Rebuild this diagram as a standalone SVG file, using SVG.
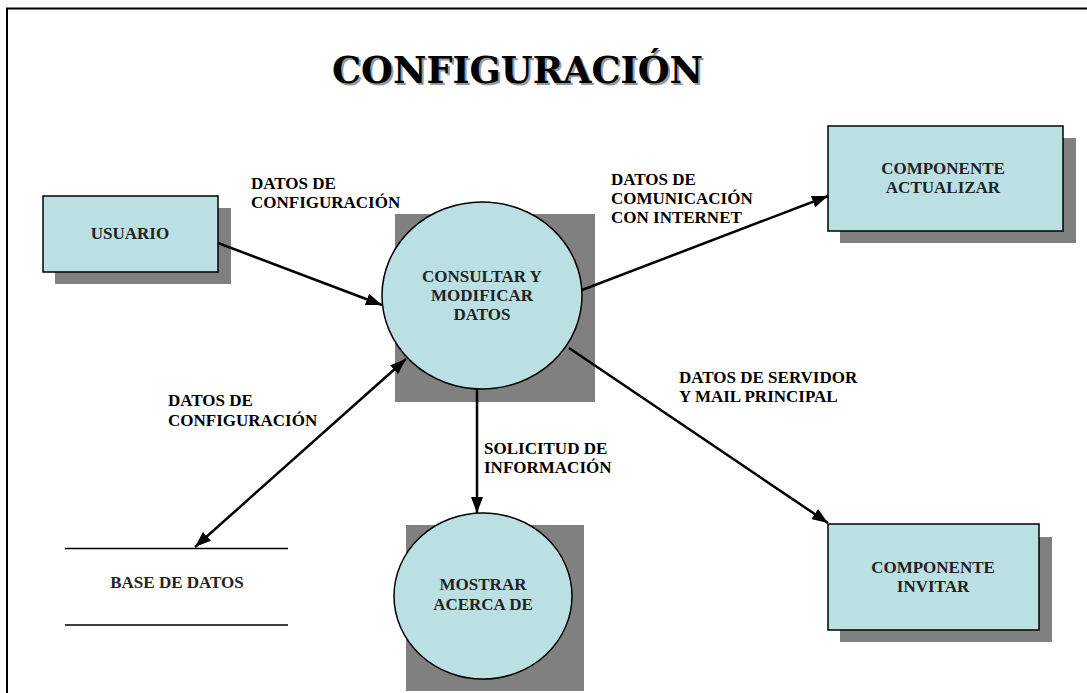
<svg xmlns="http://www.w3.org/2000/svg" width="1087" height="693" viewBox="0 0 1087 693">
<style>
.shadow{fill:#808080;stroke:none}
.node{fill:#BBE0E3;stroke:#000;stroke-width:1.5}
.ntext{font-family:"Liberation Serif",serif;font-weight:bold;font-size:17px;fill:#222;text-anchor:middle}
.lbl{font-family:"Liberation Serif",serif;font-weight:bold;font-size:17px;fill:#000}
.conn{stroke:#000;stroke-width:2.5;fill:none}
.title{font-family:"DejaVu Serif",serif;font-weight:bold;font-size:38px}
</style>
<defs>
<marker id="ah" markerUnits="userSpaceOnUse" markerWidth="16" markerHeight="12" refX="16" refY="6" orient="auto-start-reverse">
<path d="M0,0 L16,6 L0,12 z" fill="#000"/>
</marker>
</defs>
<rect width="1087" height="693" fill="#fff"/>
<rect x="7" y="8.5" width="1100" height="700" fill="none" stroke="#000" stroke-width="2"/>
<g id="title">
<text class="title" x="334" y="85" fill="#999" textLength="371" lengthAdjust="spacingAndGlyphs">CONFIGURACIÓN</text>
<text class="title" x="332" y="83" fill="#000" textLength="371" lengthAdjust="spacingAndGlyphs">CONFIGURACIÓN</text>
</g>
<g id="usuario">
<rect class="shadow" x="55" y="208" width="176" height="76"/>
<rect class="node" x="43" y="196" width="175" height="76"/>
<text class="ntext" x="130" y="239">USUARIO</text>
</g>
<g id="consultar">
<rect class="shadow" x="395" y="214" width="200" height="188"/>
<ellipse class="node" cx="482" cy="295.5" rx="100" ry="93.5"/>
<text class="ntext" x="482" y="282">CONSULTAR Y</text>
<text class="ntext" x="482" y="301">MODIFICAR</text>
<text class="ntext" x="482" y="320">DATOS</text>
</g>
<g id="actualizar">
<rect class="shadow" x="840" y="138" width="236" height="105"/>
<rect class="node" x="828" y="126" width="235" height="105"/>
<text class="ntext" x="943" y="174">COMPONENTE</text>
<text class="ntext" x="943" y="193">ACTUALIZAR</text>
</g>
<g id="invitar">
<rect class="shadow" x="840" y="537" width="212" height="105"/>
<rect class="node" x="828" y="524" width="211" height="106"/>
<text class="ntext" x="933" y="573">COMPONENTE</text>
<text class="ntext" x="933" y="592">INVITAR</text>
</g>
<g id="mostrar">
<rect class="shadow" x="406" y="525" width="178" height="166"/>
<ellipse class="node" cx="483" cy="596" rx="89" ry="83"/>
<text class="ntext" x="483" y="590">MOSTRAR</text>
<text class="ntext" x="483" y="610">ACERCA DE</text>
</g>
<g id="basedatos">
<line x1="65" y1="548.5" x2="288" y2="548.5" stroke="#000" stroke-width="1.5"/>
<line x1="65" y1="625" x2="288" y2="625" stroke="#000" stroke-width="1.5"/>
<text class="ntext" x="177" y="588" fill="#000">BASE DE DATOS</text>
</g>
<g id="connectors">
<line class="conn" x1="218" y1="243" x2="382" y2="305" marker-end="url(#ah)"/>
<line class="conn" x1="582" y1="290" x2="828" y2="196" marker-end="url(#ah)"/>
<line class="conn" x1="569" y1="348" x2="828" y2="523" marker-end="url(#ah)"/>
<line class="conn" x1="477" y1="389" x2="477" y2="513" marker-end="url(#ah)"/>
<line class="conn" x1="195" y1="547" x2="406" y2="359" marker-start="url(#ah)" marker-end="url(#ah)"/>
</g>
<g id="labels">
<text class="lbl" x="251" y="189">DATOS DE</text>
<text class="lbl" x="251" y="208">CONFIGURACIÓN</text>
<text class="lbl" x="611" y="185">DATOS DE</text>
<text class="lbl" x="611" y="204">COMUNICACIÓN</text>
<text class="lbl" x="611" y="223">CON INTERNET</text>
<text class="lbl" x="679" y="383">DATOS DE SERVIDOR</text>
<text class="lbl" x="679" y="402">Y MAIL PRINCIPAL</text>
<text class="lbl" x="168" y="406">DATOS DE</text>
<text class="lbl" x="168" y="426">CONFIGURACIÓN</text>
<text class="lbl" x="484" y="454">SOLICITUD DE</text>
<text class="lbl" x="484" y="473">INFORMACIÓN</text>
</g>
</svg>
